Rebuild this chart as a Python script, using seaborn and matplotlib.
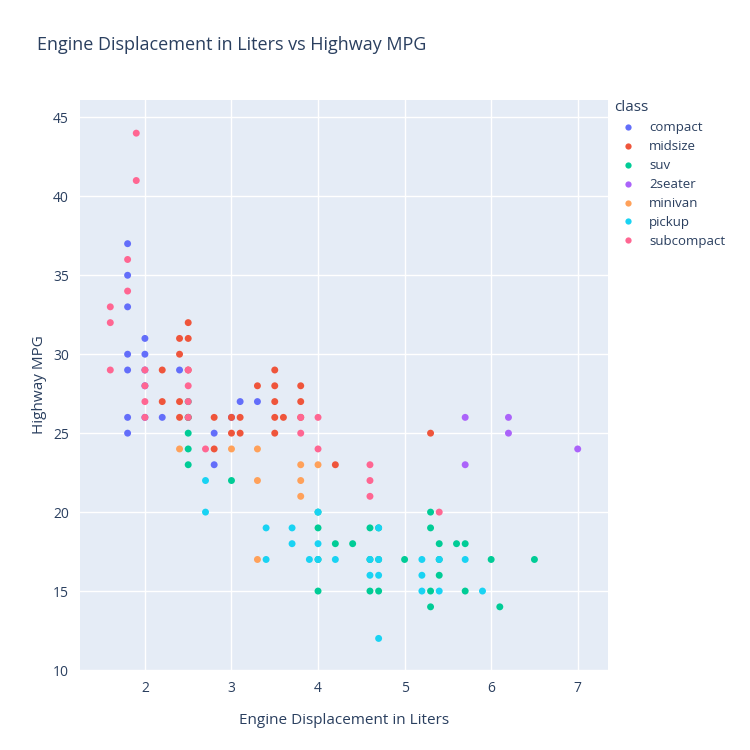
import matplotlib
matplotlib.use("Agg")
import matplotlib.pyplot as plt
import seaborn as sns
import pandas as pd

compact = [(1.8,37),(1.8,35),(1.8,33),(1.8,30),(1.8,29),(1.8,26),(1.8,25),(2.0,31),(2.0,30),
           (2.0,29),(2.0,28),(2.0,26),(2.4,29),(2.8,25),(2.8,23),(3.1,27),(3.3,27),(2.2,26),(3.0,26)]
midsize = [(2.2,29),(2.2,27),(2.4,31),(2.4,30),(2.4,27),(2.4,26),(2.5,32),(2.5,31),(2.5,29),(2.5,26),
           (2.8,26),(2.8,24),(3.0,26),(3.0,25),(3.1,26),(3.1,25),(3.3,28),(3.5,29),(3.5,28),(3.5,27),
           (3.5,26),(3.5,25),(3.6,26),(3.8,28),(3.8,27),(3.8,26),(4.2,23),(5.3,25)]
suv = [(2.5,27),(2.5,26),(2.5,25),(2.5,24),(2.5,23),(3.0,22),(4.0,20),(4.0,19),(4.0,17),(4.0,15),
       (4.2,18),(4.4,18),(4.6,19),(4.6,17),(4.6,15),(4.7,19),(4.7,17),(4.7,15),(5.0,17),(5.3,20),
       (5.3,19),(5.3,15),(5.3,14),(5.4,18),(5.4,17),(5.4,16),(5.6,18),(5.7,18),(5.7,15),(6.0,17),
       (6.1,14),(6.5,17)]
twoseater = [(5.7,26),(5.7,23),(6.2,26),(6.2,25),(7.0,24)]
minivan = [(2.4,24),(3.0,24),(3.3,24),(3.3,22),(3.3,17),(3.8,23),(3.8,22),(3.8,21),(4.0,23)]
pickup = [(2.7,22),(2.7,20),(3.4,19),(3.4,17),(3.7,19),(3.7,18),(3.9,17),(4.0,20),(4.0,18),(4.0,17),
          (4.2,17),(4.6,17),(4.6,16),(4.7,19),(4.7,17),(4.7,16),(4.7,12),(5.2,17),(5.2,16),(5.2,15),
          (5.4,17),(5.4,15),(5.7,17),(5.9,15)]
subcompact = [(1.6,33),(1.6,32),(1.6,29),(1.8,36),(1.8,34),(1.9,44),(1.9,41),(2.0,29),(2.0,28),
              (2.0,27),(2.0,26),(2.5,29),(2.5,28),(2.5,27),(2.5,26),(2.7,24),(3.8,26),(3.8,25),
              (4.0,26),(4.0,24),(4.6,23),(4.6,22),(4.6,21),(5.4,20)]

classes = ["compact", "midsize", "suv", "2seater", "minivan", "pickup", "subcompact"]
groups = [compact, midsize, suv, twoseater, minivan, pickup, subcompact]
colors = ["#636EFA", "#EF553B", "#00CC96", "#AB63FA", "#FFA15A", "#19D3F3", "#FF6692"]

rows = []
for c, pts in zip(classes, groups):
    for d, h in pts:
        rows.append({"displ": d, "hwy": h, "class": c})
df = pd.DataFrame(rows)

plt.rcParams["font.family"] = ["Open Sans", "DejaVu Sans"]
fig = plt.figure(figsize=(7.5, 7.5), dpi=100)
ax = fig.add_axes([80/750, 80/750, 528/750, 570/750])
ax.set_facecolor("#E5ECF6")
sns.scatterplot(data=df, x="displ", y="hwy", hue="class", hue_order=classes,
                palette=colors, s=25, linewidth=0, ax=ax, zorder=3)
ax.set_xlim(1.25, 7.35)
ax.set_ylim(10, 46.1)
ax.set_xticks(range(2, 8))
ax.set_yticks(range(10, 50, 5))
ax.grid(color="white", linewidth=1, zorder=0)
ax.set_axisbelow(True)
for s in ax.spines.values():
    s.set_visible(False)
ax.tick_params(length=0, labelsize=10, colors="#2a3f5f", pad=8)
ax.set_xlabel("Engine Displacement in Liters", fontsize=11, color="#2a3f5f", labelpad=12)
ax.set_ylabel("Highway MPG", fontsize=11, color="#2a3f5f", labelpad=4)
fig.text(37/750, 1 - 45/750, "Engine Displacement in Liters vs Highway MPG",
         fontsize=13, color="#2a3f5f", va="center")
leg = ax.legend(title="class", loc="upper left", bbox_to_anchor=(0.99, 1.02),
                frameon=False, fontsize=9.5, title_fontsize=11, markerscale=0.9,
                alignment="left", handletextpad=0.6, labelspacing=0.45)
for t in leg.get_texts():
    t.set_color("#2a3f5f")
leg.get_title().set_color("#2a3f5f")
fig.savefig("out.png", dpi=100)
